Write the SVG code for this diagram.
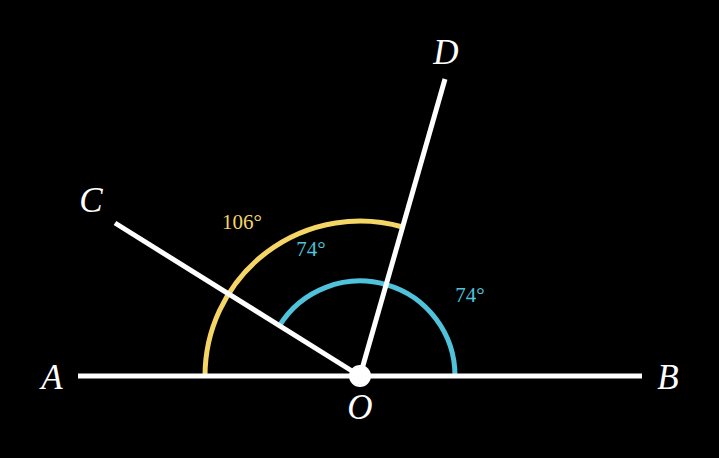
<svg xmlns="http://www.w3.org/2000/svg" width="719" height="458" viewBox="0 0 719 458">
<style>
.ln{stroke:#fff;stroke-width:5;fill:none}
.arc{fill:none;stroke-width:5}
.pt{font-family:"Liberation Serif","DejaVu Serif",serif;font-style:italic;font-size:35px;fill:#fff;text-anchor:middle}
.ang{font-family:"Liberation Serif","DejaVu Serif",serif;font-size:21px;text-anchor:middle}
</style>
<rect width="719" height="458" fill="#000"/>
<g id="arcs">
<path class="arc" stroke="#f5d565" d="M205,376 A155,155 0 0 1 402.7,227"/>
<path class="arc" stroke="#4fc3dc" d="M455,376 A95,95 0 0 0 279.4,325.7"/>
</g>
<g id="connectors">
<line class="ln" x1="78" y1="376" x2="642" y2="376"/>
<line class="ln" x1="360" y1="376" x2="445" y2="79"/>
<line class="ln" x1="360" y1="376" x2="115" y2="223"/>
</g>
<g id="O"><circle cx="360" cy="376" r="11" fill="#fff"/><text class="pt" x="360" y="419">O</text></g>
<g id="A"><text class="pt" x="52" y="389">A</text></g>
<g id="B"><text class="pt" x="668" y="389">B</text></g>
<g id="C"><text class="pt" x="91" y="212">C</text></g>
<g id="D"><text class="pt" x="446" y="64">D</text></g>
<g id="labels">
<text class="ang" x="242" y="229" fill="#f5d565">106°</text>
<text class="ang" x="311" y="256" fill="#4fc3dc">74°</text>
<text class="ang" x="470" y="302" fill="#4fc3dc">74°</text>
</g>
</svg>
